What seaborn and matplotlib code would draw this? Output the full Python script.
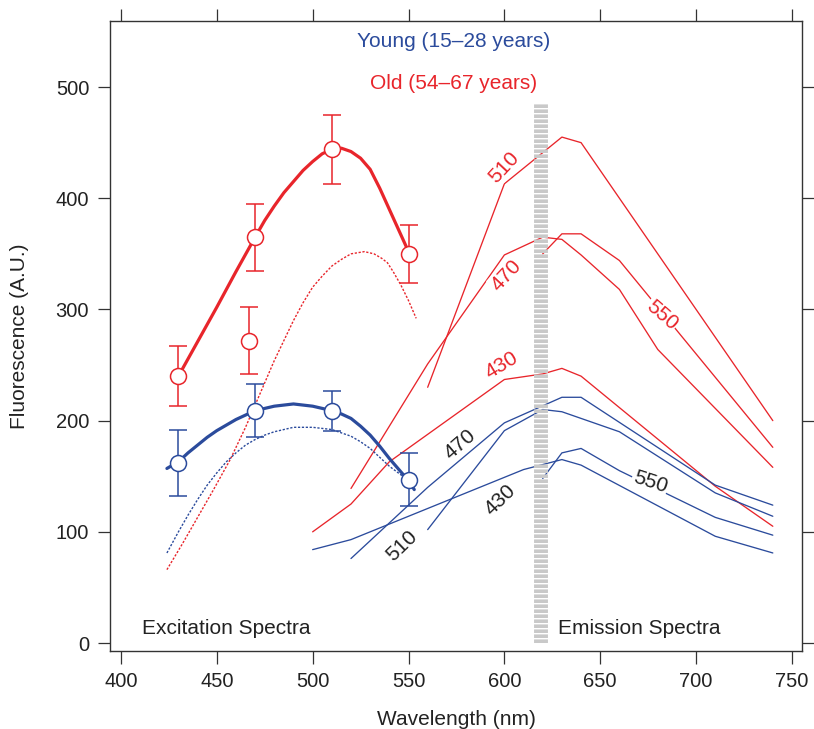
import numpy as np
import pandas as pd
import matplotlib
matplotlib.use("Agg")
import matplotlib.pyplot as plt
import seaborn as sns

RED = "#E8252B"
BLUE = "#2B4B9C"
INK = "#222222"

# Excitation spectra: measured points (mean +/- error)
exc_wl = [430, 470, 510, 550]
old_exc = [240, 365, 444, 350]
old_err = [27, 30, 31, 26]
young_exc = [162, 209, 209, 147]
young_err = [30, 24, 18, 24]
old_extra_wl = [467]
old_extra = [272]
old_extra_err = [30]

# Excitation spectra: fitted curves (thick) and reference curves (dotted)
old_fit_wl = [430, 440, 450, 460, 470, 475, 480, 485, 490, 495, 500, 505, 510, 515,
              520, 525, 530, 535, 540, 545, 550]
old_fit = [240, 271, 302, 334, 365, 380, 393, 405, 415, 425, 433, 440, 444, 445,
           442, 436, 426, 409, 390, 371, 352]
young_fit_wl = [424, 430, 435, 440, 445, 450, 455, 460, 465, 470, 475, 480, 485, 490,
                495, 500, 505, 510, 515, 520, 525, 530, 535, 540, 545, 550, 553]
young_fit = [157, 163, 171, 178, 185, 191, 196, 201, 205, 209, 211, 213, 214, 215,
             214, 213, 211, 209, 206, 202, 195, 187, 177, 166, 156, 146, 138]
old_dot_wl = [424, 432, 440, 448, 457, 465, 474, 480, 485, 490, 495, 500, 505, 510,
              515, 520, 527, 532, 536, 539, 542, 546, 550, 554]
old_dot = [66, 89, 113, 137, 165, 194, 230, 254, 272, 290, 306, 320, 330, 339,
           345, 350, 352, 350, 346, 342, 334, 322, 308, 292]
young_dot_wl = [424, 430, 435, 440, 445, 450, 455, 460, 465, 470, 475, 480, 485, 490,
                500, 505, 510, 515, 520, 525, 530, 535, 540, 547, 553]
young_dot = [81, 100, 115, 129, 142, 153, 163, 171, 178, 183, 187, 190, 192, 194,
             194, 193, 192, 189, 186, 181, 175, 167, 159, 150, 138]

# Emission spectra, one line per excitation wavelength
old_em = {
    "430": ([500, 520, 540, 600, 620, 630, 640, 710, 740], [100, 125, 163, 237, 242, 247, 240, 141, 105]),
    "470": ([520, 560, 580, 600, 620, 630, 640, 660, 680, 740], [139, 251, 300, 349, 365, 363, 349, 318, 264, 158]),
    "510": ([560, 600, 630, 640, 740], [230, 413, 455, 450, 200]),
    "550": ([620, 630, 640, 660, 740], [350, 368, 368, 344, 176]),
}
young_em = {
    "430": ([500, 520, 610, 630, 640, 710, 740], [84, 93, 156, 165, 160, 96, 81]),
    "470": ([520, 560, 600, 630, 640, 710, 740], [76, 140, 198, 221, 221, 142, 124]),
    "510": ([560, 600, 620, 630, 640, 660, 710, 740], [102, 191, 210, 208, 202, 190, 135, 114]),
    "550": ([620, 630, 640, 660, 710, 740], [148, 171, 175, 155, 113, 97]),
}

# label anchors (wavelength, value, rotation)
old_labels = {"510": (600, 428, 47), "470": (601, 331, 47), "430": (598.5, 250, 31), "550": (682, 295, -41)}
young_labels = {"470": (577, 179, 41), "430": (598, 129, 44), "510": (546.5, 87, 44), "550": (676, 145, -18)}

sns.set_theme(style="ticks")
plt.rcParams["font.family"] = ["Liberation Sans", "DejaVu Sans"]
plt.rcParams["font.size"] = 15

fig = plt.figure(figsize=(8.14, 7.29), dpi=100)
ax = fig.add_axes([0.1351, 0.1074, 0.8501, 0.8638])

# emission lines
for em, col in [(old_em, RED), (young_em, BLUE)]:
    for key, (wl, val) in em.items():
        sns.lineplot(x=wl, y=val, ax=ax, color=col, lw=0.95, zorder=2)

# dotted reference curves
sns.lineplot(x=old_dot_wl, y=old_dot, ax=ax, color=RED, lw=1.0, linestyle=(0, (1.6, 1.2)), zorder=2)
sns.lineplot(x=young_dot_wl, y=young_dot, ax=ax, color=BLUE, lw=1.0, linestyle=(0, (1.6, 1.2)), zorder=2)

# thick fitted curves
sns.lineplot(x=old_fit_wl, y=old_fit, ax=ax, color=RED, lw=2.3, zorder=3,
             solid_joinstyle="round", solid_capstyle="round")
sns.lineplot(x=young_fit_wl, y=young_fit, ax=ax, color=BLUE, lw=2.3, zorder=3,
             solid_joinstyle="round", solid_capstyle="round")

# error bars and open circles
for wl, val, err, col in [(exc_wl, old_exc, old_err, RED),
                          (old_extra_wl, old_extra, old_extra_err, RED),
                          (exc_wl, young_exc, young_err, BLUE)]:
    ax.errorbar(wl, val, yerr=err, fmt="none", ecolor=col, elinewidth=1.1,
                capsize=6.5, capthick=1.1, zorder=4)
    ax.plot(wl, val, "o", ms=11.5, mfc="white", mec=col, mew=1.1, zorder=5, linestyle="none")

# separator between excitation and emission
ax.vlines(619, 0, 485, colors="#C9C9C9", lw=10, linestyles=(0, (0.26, 0.1)), zorder=6)

# line labels
for labels, col in [(old_labels, RED), (young_labels, INK)]:
    for txt, (x, y, rot) in labels.items():
        ax.text(x, y, txt, color=col, fontsize=15, rotation=rot, rotation_mode="anchor",
                ha="center", va="center", zorder=7,
                bbox=dict(boxstyle="square,pad=0.05", fc="white", ec="none"))

ax.text(0.496, 0.968, "Young (15\u201328 years)", color=BLUE, transform=ax.transAxes,
        ha="center", va="center", fontsize=15)
ax.text(0.496, 0.900, "Old (54\u201367 years)", color=RED, transform=ax.transAxes,
        ha="center", va="center", fontsize=15)
ax.text(411, 13.5, "Excitation Spectra", color=INK, ha="left", va="center", fontsize=15)
ax.text(628, 13.5, "Emission Spectra", color=INK, ha="left", va="center", fontsize=15)

ax.set_xlim(394.3, 755.2)
ax.set_ylim(-6.9, 559.4)
ax.set_xticks(np.arange(400, 751, 50))
ax.set_yticks(np.arange(0, 501, 100))
ax.tick_params(direction="out", length=9, width=0.9, color="#333333", labelcolor=INK,
               top=True, right=True, labeltop=False, labelright=False, labelsize=14.5, pad=6)
for s in ax.spines.values():
    s.set_visible(True)
    s.set_color("#333333")
    s.set_linewidth(1.0)

ax.set_xlabel("Wavelength (nm)", color=INK, fontsize=15)
ax.set_ylabel("Fluorescence (A.U.)", color=INK, fontsize=15)
ax.xaxis.set_label_coords(0.5, -0.094)
ax.yaxis.set_label_coords(-0.117, 0.5)

fig.savefig("out.png", dpi=100)
